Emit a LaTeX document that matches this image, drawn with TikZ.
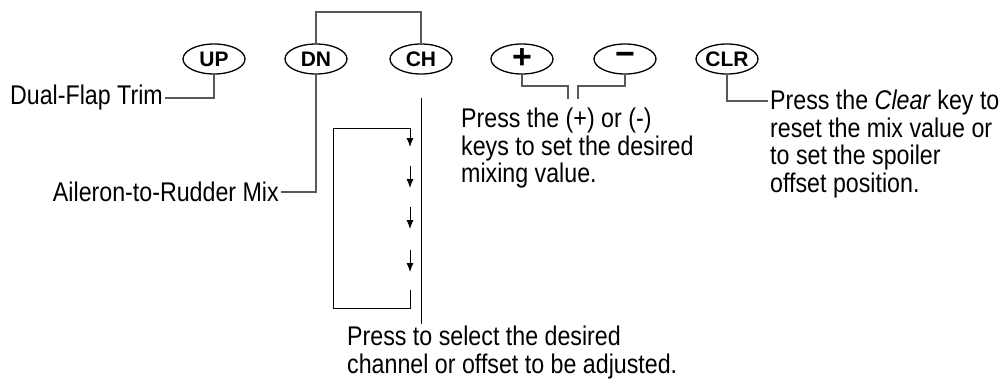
\documentclass[tikz,border=0pt]{standalone}
\usepackage{fontspec}
\setmainfont{Liberation Sans}[FakeStretch=0.86]
\newfontfamily\keyfont{Liberation Sans}
\usetikzlibrary{shapes.geometric,arrows.meta}

\tikzset{
  btn/.style={draw,ellipse,line width=1.3pt,minimum width=62pt,minimum height=30pt,
    inner sep=0pt,font=\keyfont\fontsize{21}{21}\selectfont\bfseries},
  lbl/.style={inner sep=2pt,font=\fontsize{27}{27.5}\selectfont},
  txt/.style={inner sep=0pt,align=left,font=\fontsize{27}{27.5}\selectfont},
  lead/.style={black!65,line width=1.2pt},
  flow/.style={line width=1pt,-{Latex[length=9pt,width=7pt]}},
}

\begin{document}
\begin{tikzpicture}[x=1pt,y=-1pt]
\useasboundingbox (0,0) rectangle (1002,381);

% keys
\node[btn] (UP) at (214,59) {UP};
\node[btn] (DN) at (316,59) {DN};
\node[btn] (CH) at (421,59) {CH};
\node[btn] (plus) at (522,59) {\fontsize{34}{34}\selectfont +};
\node[btn] (minus) at (625,59) {\fontsize{34}{34}\selectfont −};
\node[btn] (CLR) at (727,59) {CLR};

% texts
\node[lbl,anchor=east] (flap) at (165,98) {Dual-Flap Trim};
\node[lbl,anchor=east] (aileron) at (281,192) {Aileron-to-Rudder Mix};
\node[txt,anchor=north west] (mixtext) at (461,108)
  {Press the (+) or (-)\\keys to set the desired\\mixing value.};
\node[txt,anchor=north west] (cleartext) at (770,90)
  {Press the \textit{Clear} key to\\reset the mix value or\\to set the spoiler\\offset position.};
\node[txt,anchor=north west] (chtext) at (347,326)
  {Press to select the desired\\channel or offset to be adjusted.};

\coordinate (pl) at (568,99);
\coordinate (mi) at (578,99);
\coordinate (clrend) at (768,101);
\coordinate (chtop) at (421,98);
\coordinate (chbot) at (421,324);

% leaders
\draw[lead] (UP.south) |- (flap.east);
\draw[lead] (DN.south) |- (aileron.east);
\draw[lead] (DN.north) -- (DN.north |- 0,12) -| (CH.north);
\draw[lead] (plus.south) -- (plus.south |- 0,86) -| (pl);
\draw[lead] (minus.south) -- (minus.south |- 0,86) -| (mi);
\draw[lead] (CLR.south) |- (clrend);
\draw[line width=1pt] (chtop) -- (chbot);

% channel loop
\draw[flow] (410,290) |- (333,308) |- (410,128) -- (410,147);
\foreach \y in {166,207,250}
  \draw[flow] (410,\y) -- ++(0,22);
\end{tikzpicture}
\end{document}
